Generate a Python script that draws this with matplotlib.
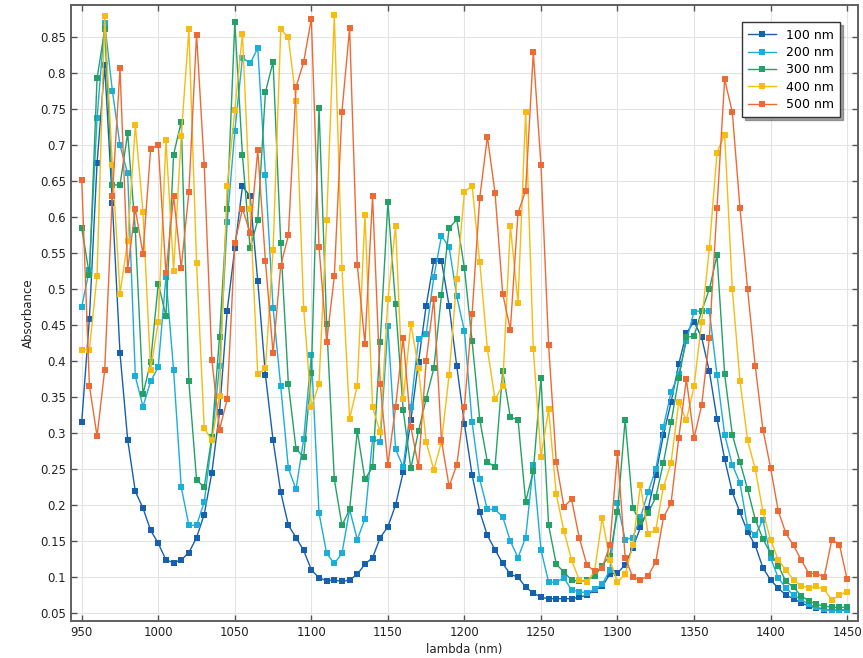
import numpy as np
import matplotlib
matplotlib.use("Agg")
import matplotlib.pyplot as plt
from matplotlib.ticker import MultipleLocator, FuncFormatter

wavelength = list(range(950, 1451, 5))

s100 = [0.316, 0.459, 0.675, 0.811, 0.62, 0.411, 0.291, 0.219, 0.196, 0.165,
        0.147, 0.124, 0.120, 0.124, 0.134, 0.155, 0.187, 0.245, 0.329, 0.47,
        0.557, 0.643, 0.629, 0.511, 0.381, 0.29, 0.218, 0.172, 0.155, 0.137,
        0.11, 0.099, 0.095, 0.096, 0.094, 0.096, 0.104, 0.118, 0.127, 0.155,
        0.17, 0.2, 0.246, 0.318, 0.399, 0.477, 0.539, 0.539, 0.477, 0.393,
        0.313, 0.242, 0.191, 0.158, 0.138, 0.119, 0.104, 0.1, 0.086, 0.078,
        0.072, 0.07, 0.07, 0.07, 0.07, 0.072, 0.075, 0.082, 0.087, 0.104,
        0.106, 0.117, 0.141, 0.169, 0.195, 0.242, 0.298, 0.343, 0.396, 0.439,
        0.455, 0.433, 0.386, 0.32, 0.264, 0.218, 0.19, 0.163, 0.144, 0.113,
        0.096, 0.085, 0.075, 0.07, 0.064, 0.06, 0.057, 0.055, 0.054, 0.054,
        0.054]

s200 = [0.476, 0.527, 0.738, 0.87, 0.776, 0.70, 0.661, 0.379, 0.337, 0.372,
        0.392, 0.517, 0.388, 0.225, 0.172, 0.172, 0.204, 0.29, 0.393, 0.593,
        0.72, 0.822, 0.814, 0.835, 0.659, 0.474, 0.365, 0.251, 0.222, 0.292,
        0.409, 0.189, 0.133, 0.119, 0.133, 0.194, 0.152, 0.181, 0.292, 0.288,
        0.449, 0.278, 0.253, 0.337, 0.431, 0.438, 0.517, 0.574, 0.559, 0.49,
        0.442, 0.315, 0.236, 0.194, 0.194, 0.184, 0.15, 0.127, 0.155, 0.256,
        0.138, 0.093, 0.093, 0.099, 0.082, 0.08, 0.078, 0.083, 0.09, 0.11,
        0.203, 0.152, 0.155, 0.183, 0.218, 0.25, 0.309, 0.357, 0.382, 0.428,
        0.469, 0.47, 0.47, 0.381, 0.298, 0.256, 0.231, 0.169, 0.158, 0.18,
        0.127, 0.099, 0.085, 0.075, 0.069, 0.062, 0.058, 0.056, 0.054, 0.054,
        0.055]

s300 = [0.585, 0.52, 0.793, 0.861, 0.645, 0.645, 0.717, 0.582, 0.354, 0.399,
        0.508, 0.463, 0.687, 0.733, 0.372, 0.235, 0.225, 0.295, 0.434, 0.612,
        0.871, 0.686, 0.557, 0.596, 0.774, 0.816, 0.564, 0.368, 0.278, 0.267,
        0.383, 0.752, 0.452, 0.236, 0.172, 0.194, 0.303, 0.236, 0.253, 0.427,
        0.621, 0.479, 0.332, 0.251, 0.303, 0.348, 0.39, 0.492, 0.585, 0.597,
        0.529, 0.428, 0.319, 0.26, 0.253, 0.386, 0.322, 0.319, 0.205, 0.247,
        0.377, 0.172, 0.118, 0.107, 0.096, 0.094, 0.096, 0.101, 0.116, 0.13,
        0.19, 0.319, 0.196, 0.176, 0.189, 0.211, 0.259, 0.315, 0.376, 0.433,
        0.435, 0.47, 0.5, 0.547, 0.382, 0.298, 0.26, 0.222, 0.18, 0.153,
        0.133, 0.116, 0.094, 0.086, 0.074, 0.067, 0.062, 0.06, 0.058, 0.058,
        0.058]

s400 = [0.416, 0.416, 0.519, 0.88, 0.672, 0.494, 0.567, 0.728, 0.607, 0.388,
        0.455, 0.707, 0.526, 0.713, 0.861, 0.537, 0.307, 0.29, 0.351, 0.643,
        0.749, 0.855, 0.612, 0.382, 0.39, 0.555, 0.861, 0.85, 0.762, 0.473,
        0.336, 0.368, 0.596, 0.881, 0.53, 0.32, 0.366, 0.603, 0.336, 0.301,
        0.486, 0.588, 0.347, 0.452, 0.39, 0.288, 0.249, 0.288, 0.381, 0.514,
        0.635, 0.644, 0.538, 0.417, 0.347, 0.366, 0.588, 0.481, 0.747, 0.417,
        0.267, 0.333, 0.215, 0.164, 0.124, 0.096, 0.093, 0.108, 0.182, 0.124,
        0.093, 0.104, 0.144, 0.228, 0.16, 0.166, 0.225, 0.259, 0.343, 0.318,
        0.365, 0.455, 0.557, 0.69, 0.715, 0.5, 0.373, 0.29, 0.25, 0.191,
        0.152, 0.124, 0.11, 0.096, 0.088, 0.085, 0.087, 0.083, 0.068, 0.075,
        0.08]

s500 = [0.652, 0.366, 0.296, 0.388, 0.63, 0.807, 0.527, 0.612, 0.549, 0.695,
        0.7, 0.522, 0.63, 0.53, 0.635, 0.854, 0.673, 0.402, 0.305, 0.347,
        0.564, 0.612, 0.578, 0.693, 0.539, 0.411, 0.533, 0.575, 0.781, 0.816,
        0.876, 0.559, 0.427, 0.518, 0.747, 0.863, 0.534, 0.424, 0.629, 0.368,
        0.256, 0.336, 0.432, 0.309, 0.253, 0.4, 0.487, 0.29, 0.226, 0.256,
        0.336, 0.465, 0.627, 0.712, 0.634, 0.494, 0.444, 0.606, 0.637, 0.829,
        0.673, 0.422, 0.26, 0.198, 0.208, 0.155, 0.117, 0.108, 0.113, 0.144,
        0.273, 0.127, 0.1, 0.096, 0.102, 0.121, 0.183, 0.203, 0.293, 0.375,
        0.293, 0.339, 0.432, 0.613, 0.792, 0.746, 0.613, 0.5, 0.393, 0.305,
        0.252, 0.192, 0.161, 0.144, 0.124, 0.105, 0.105, 0.1, 0.152, 0.145,
        0.097]

series = [s100, s200, s300, s400, s500]
labels = ["100 nm", "200 nm", "300 nm", "400 nm", "500 nm"]
colors = ["#1560AF", "#1AAED8", "#23A166", "#F6BC12", "#EE6A35"]

fig = plt.figure(figsize=(8.63, 6.58), dpi=100)
ax = fig.add_axes([0.0823, 0.0562, 0.9117, 0.9362])

for ys, lab, c in zip(series, labels, colors):
    ax.plot(wavelength, ys, color=c, lw=1.0, marker="s", markersize=4.5,
            markeredgewidth=0, label=lab)

ax.set_xlim(943, 1457)
ax.set_ylim(0.039, 0.895)
ax.xaxis.set_major_locator(MultipleLocator(50))
ax.yaxis.set_major_locator(MultipleLocator(0.05))
ax.yaxis.set_major_formatter(FuncFormatter(lambda v, p: f"{v:g}"))
ax.grid(True, color="#e3e3e3", lw=0.8)
ax.set_axisbelow(True)
ax.tick_params(direction="in", top=True, right=True, length=4, width=1,
               color="#555555", labelsize=8.5, labelcolor="#222222")
for sp in ax.spines.values():
    sp.set_color("#606060")
    sp.set_linewidth(1.4)

ax.set_xlabel("lambda (nm)", fontsize=8.5, color="#222222", labelpad=3)
ax.set_ylabel("Absorbance", fontsize=8.5, color="#222222", labelpad=4)

leg = ax.legend(loc="upper right", bbox_to_anchor=(0.985, 0.982), fontsize=9,
                fancybox=False, shadow=True, framealpha=1, edgecolor="#333333",
                handlelength=2.2, borderpad=0.5, labelspacing=0.35)
leg.get_frame().set_linewidth(1.0)

fig.savefig("out.png", dpi=100)
